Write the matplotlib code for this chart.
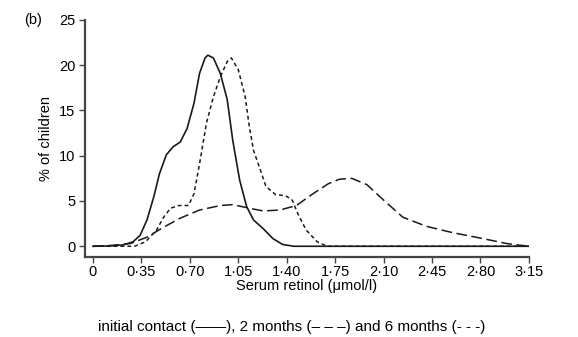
import numpy as np
import matplotlib
matplotlib.use("Agg")
import matplotlib.pyplot as plt

plt.rcParams['font.family'] = ['Liberation Sans', 'DejaVu Sans']

# ----------------------------------------------------------------------
# data: serum retinol (umol/l) vs % of children
# ----------------------------------------------------------------------

x_initial = [0.00, 0.12, 0.22, 0.29, 0.34, 0.39, 0.44, 0.48, 0.53, 0.58,
             0.63, 0.68, 0.73, 0.77, 0.81, 0.83, 0.87, 0.92, 0.97, 1.01,
             1.06, 1.11, 1.16, 1.23, 1.30, 1.37, 1.45, 1.60, 2.00, 2.50, 3.15]
y_initial = [0.0, 0.03, 0.15, 0.5, 1.2, 2.9, 5.5, 8.0, 10.1, 11.0,
             11.5, 13.0, 15.8, 19.1, 20.8, 21.1, 20.8, 19.1, 16.2, 11.7,
             7.3, 4.4, 2.9, 1.95, 0.85, 0.2, 0.0, 0.0, 0.0, 0.0, 0.0]

x_2months = [0.00, 0.14, 0.27, 0.39, 0.51, 0.63, 0.77, 0.92, 1.01, 1.13,
             1.23, 1.35, 1.47, 1.59, 1.70, 1.78, 1.87, 1.98, 2.10, 2.24,
             2.41, 2.60, 2.80, 2.99, 3.15]
y_2months = [0.0, 0.1, 0.3, 1.0, 2.1, 3.1, 4.0, 4.5, 4.6, 4.2,
             3.9, 4.0, 4.5, 5.8, 6.9, 7.4, 7.5, 6.8, 5.1, 3.2,
             2.2, 1.5, 0.9, 0.3, 0.0]

x_6months = [0.00, 0.30, 0.38, 0.46, 0.51, 0.56, 0.62, 0.69, 0.73, 0.77,
             0.82, 0.87, 0.92, 0.97, 1.00, 1.05, 1.10, 1.13, 1.16, 1.21,
             1.25, 1.32, 1.39, 1.44, 1.48, 1.54, 1.62, 1.69, 2.00, 3.15]
y_6months = [0.0, 0.0, 0.5, 1.8, 3.2, 4.2, 4.5, 4.5, 5.8, 9.1,
             13.6, 16.5, 18.7, 20.4, 20.8, 19.5, 16.5, 13.2, 10.6, 8.4,
             6.6, 5.7, 5.6, 5.1, 3.6, 1.8, 0.5, 0.0, 0.0, 0.0]

xticks = [0, 0.35, 0.70, 1.05, 1.40, 1.75, 2.10, 2.45, 2.80, 3.15]
xtick_labels = ['0', '0·35', '0·70', '1·05', '1·40', '1·75', '2·10', '2·45', '2·80', '3·15']
yticks = [0, 5, 10, 15, 20, 25]

# ----------------------------------------------------------------------
# plot
# ----------------------------------------------------------------------

fig = plt.figure(figsize=(5.78, 3.37), dpi=100)
ax = fig.add_axes([0.147, 0.237, 0.768, 0.704])

ink = '#1a1a1a'
ax.plot(x_initial, y_initial, '-', color=ink, linewidth=1.2)
ax.plot(x_2months, y_2months, color=ink, linewidth=1.1, dashes=(7, 3))
ax.plot(x_6months, y_6months, color=ink, linewidth=1.1, dashes=(2.5, 2))

ax.set_xlim(-0.058, 3.15)
ax.set_ylim(-1.2, 25)
ax.set_xticks(xticks)
ax.set_xticklabels(xtick_labels)
ax.set_yticks(yticks)

for side in ['top', 'right']:
    ax.spines[side].set_visible(False)
for side in ['left', 'bottom']:
    ax.spines[side].set_linewidth(1.6)
    ax.spines[side].set_color('#444444')
ax.tick_params(axis='both', direction='out', length=4, width=1.0,
               color='#444444', labelsize=10.5, labelcolor='black')
ax.tick_params(axis='x', pad=2)
ax.tick_params(axis='y', pad=3)

ax.set_xlabel('Serum retinol (μmol/l)', fontsize=10.5, labelpad=0)
ax.set_ylabel('% of children', fontsize=10.5, labelpad=4)

fig.text(24 / 578, 1 - 20 / 337, '(b)', fontsize=10.5, va='center', ha='left')
fig.text(292 / 578, 1 - 327 / 337,
         'initial contact (——), 2 months (– – –) and 6 months (- - -)',
         fontsize=11, ha='center', va='center')

fig.savefig('out.png', dpi=100)
